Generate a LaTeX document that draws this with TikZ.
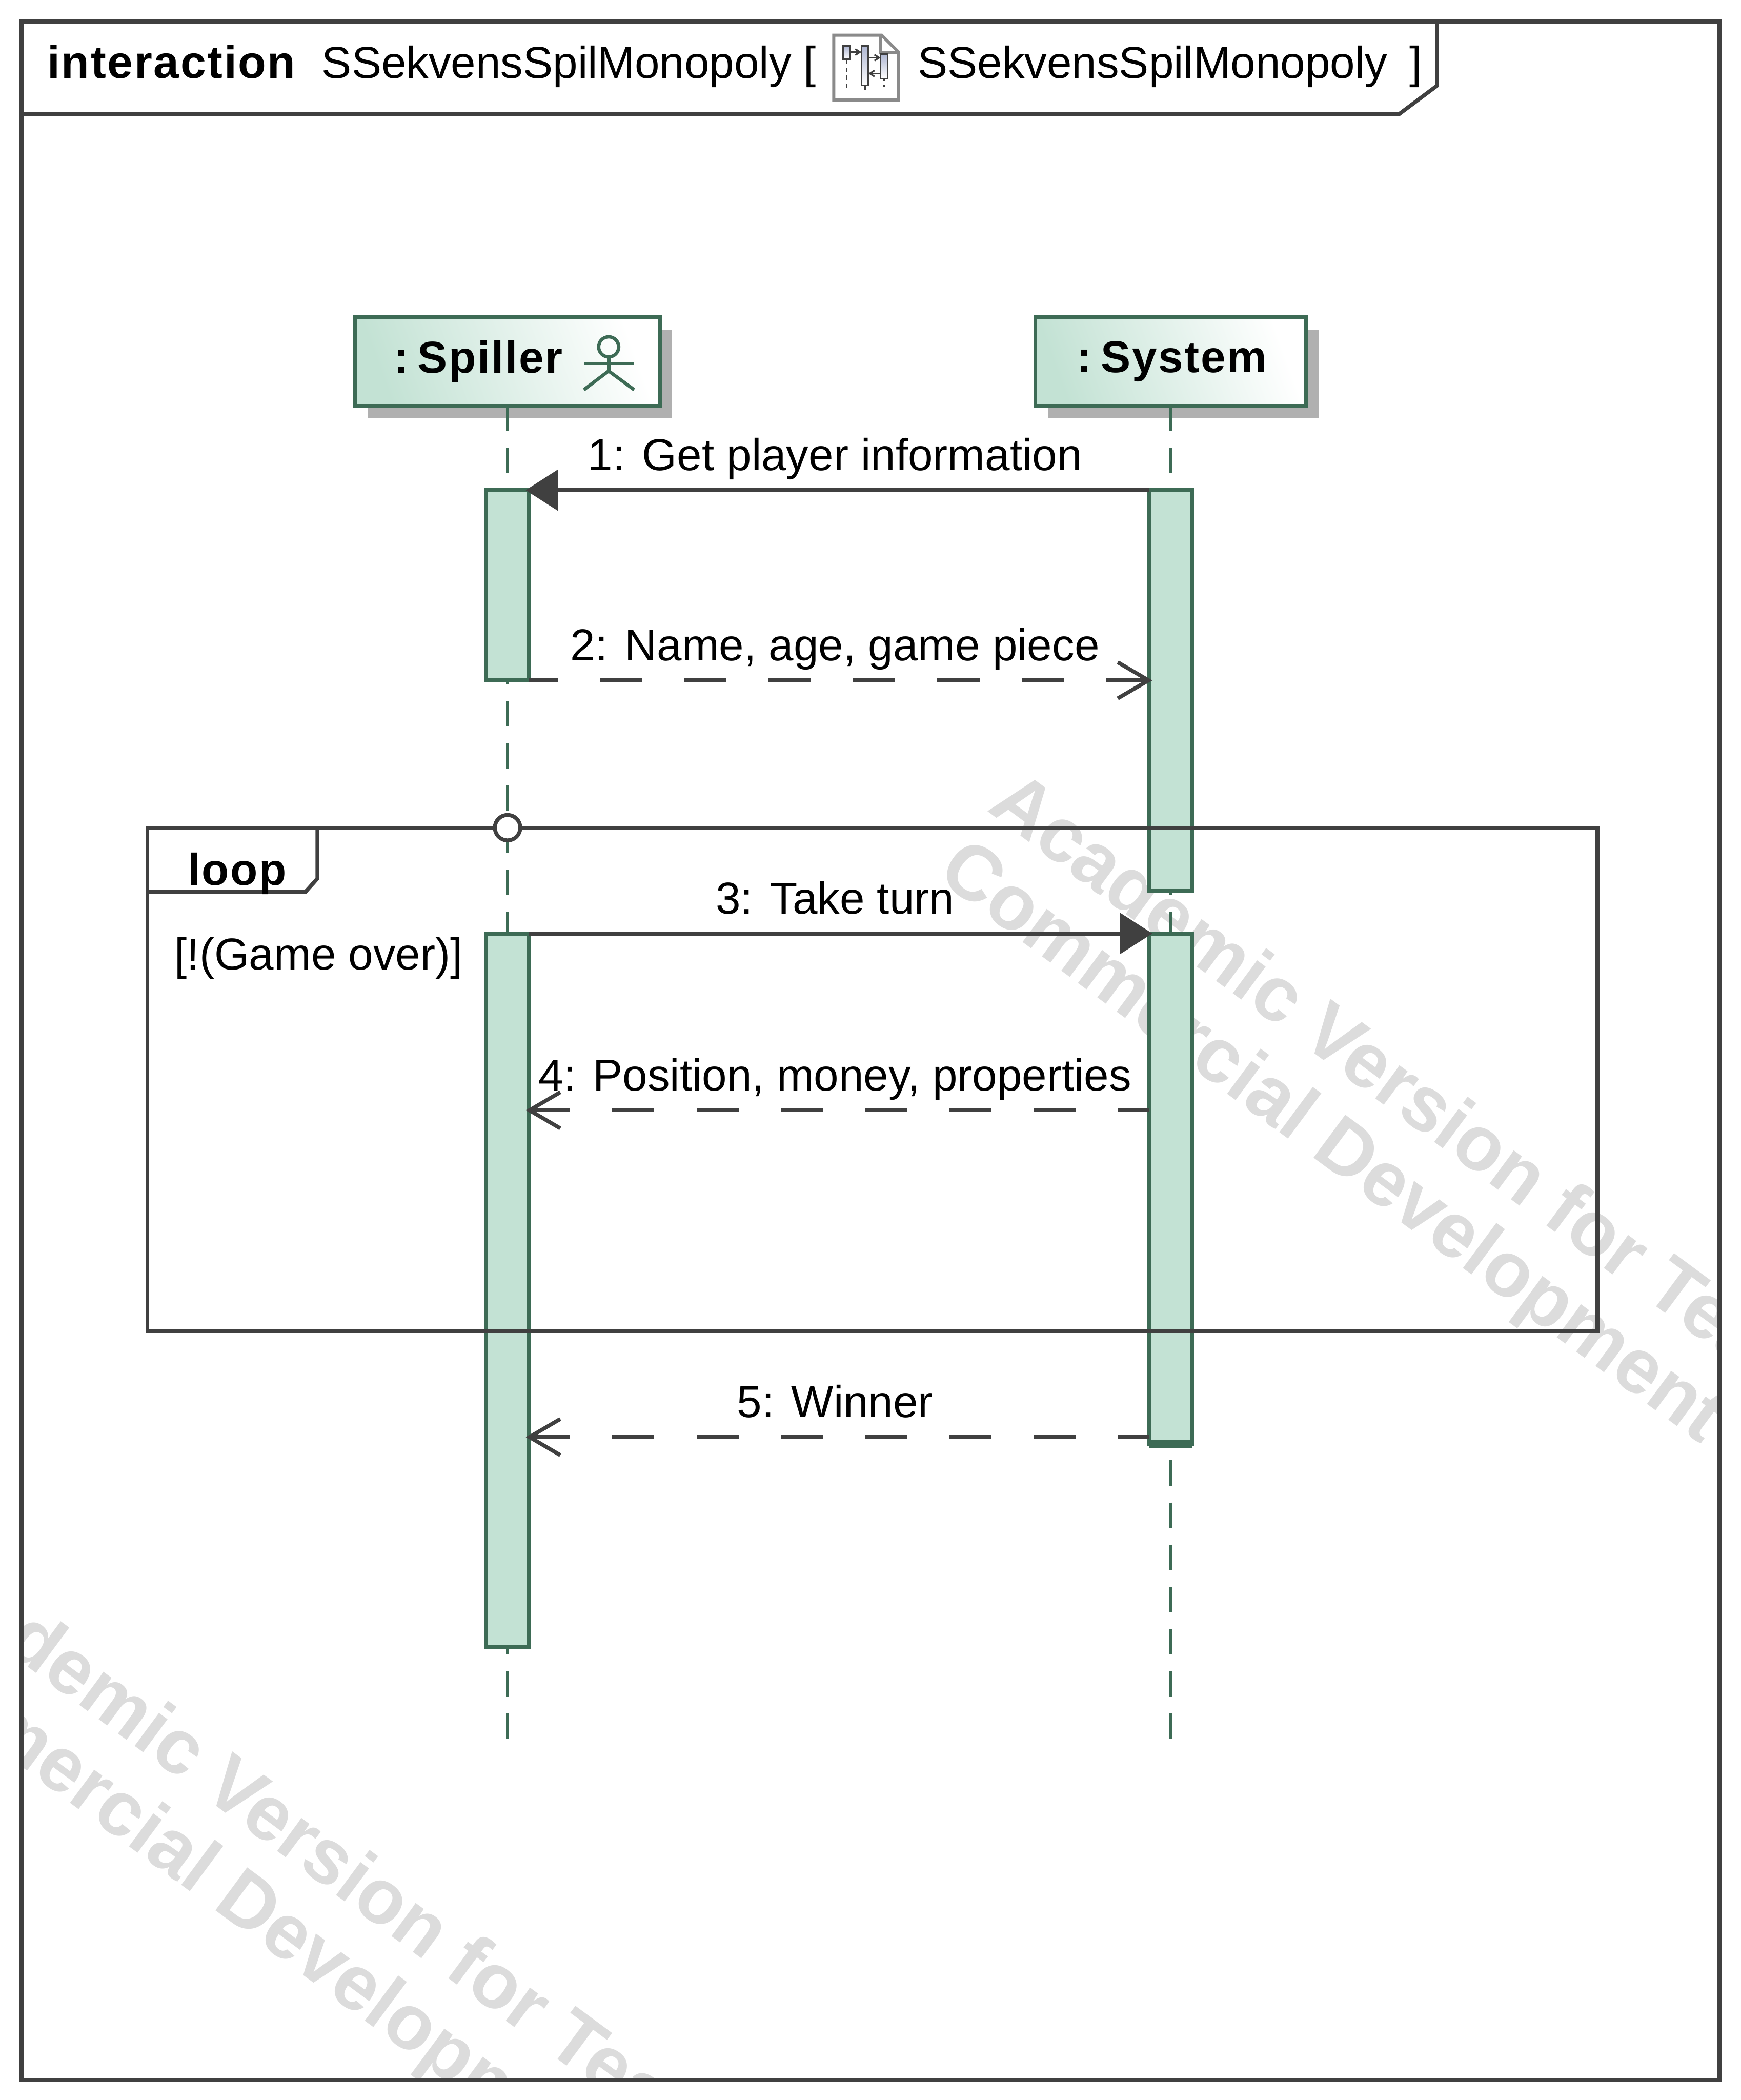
\documentclass[tikz,border=0pt]{standalone}
\usepackage{fontspec}
\setmainfont{Liberation Sans}
\newfontfamily\spacedfont[LetterSpace=3]{Liberation Sans}
\usepackage{xcolor}
\usetikzlibrary{arrows.meta,positioning,calc}
\definecolor{framegray}{HTML}{404040}
\definecolor{umlgreen}{HTML}{3D6B55}
\definecolor{barfill}{HTML}{C3E2D4}
\definecolor{shadowgray}{HTML}{B0B0B0}
\definecolor{markgray}{HTML}{DCDCDC}
\definecolor{icongray}{HTML}{8A8A8A}
\definecolor{iconblue}{HTML}{AEB6D2}
\newcommand{\umlfont}{\fontsize{19}{23}\selectfont}
\newcommand{\umlbold}{\fontsize{19}{23}\selectfont\spacedfont\bfseries}
\newcommand{\msggap}{\ \kern 2pt}

\begin{document}
\begin{tikzpicture}[
  x=0.02cm, y=-0.02cm,
  framebox/.style={draw=framegray, line width=0.058cm, inner sep=0pt, outer sep=0pt},
  plainlabel/.style={font=\umlfont, inner sep=0pt, anchor=base west},
  boldlabel/.style={font=\umlbold, inner sep=0pt, anchor=base west},
  headbox/.style={draw=umlgreen, line width=0.058cm, left color=barfill, right color=white,
    shading angle=110, minimum height=1.32cm, inner sep=0pt, outer sep=0pt, font=\umlbold},
  headshadow/.style={fill=shadowgray, minimum height=1.32cm, inner sep=0pt},
  actbar/.style={draw=umlgreen, fill=barfill, line width=0.058cm, minimum width=0.64cm,
    inner sep=0pt, outer sep=0pt, anchor=north},
  lifeline/.style={draw=umlgreen, line width=0.05cm, dash pattern=on 0.38cm off 0.25cm},
  actorline/.style={draw=umlgreen, line width=0.05cm},
  syncmsg/.style={draw=framegray, line width=0.058cm, shorten >=-0.05cm,
    -{Triangle[length=0.48cm, width=0.6cm]}, fill=framegray},
  replymsg/.style={draw=framegray, line width=0.058cm, shorten >=-0.05cm,
    dash pattern=on 0.63cm off 0.63cm, -{Straight Barb[length=0.46cm, width=0.54cm]}},
  msglabel/.style={font=\umlfont, inner sep=0pt, text height=14pt, text depth=4pt, above=3.5pt,
    xshift=-0.06cm, fill=none},
  watermark/.style={font=\fontsize{33}{39}\selectfont\bfseries, text=markgray, inner sep=0pt,
    anchor=base west, rotate=-36.5},
  iconline/.style={draw=framegray, line width=0.025cm},
  iconbar/.style={iconline, top color=iconblue, bottom color=white}
]
\useasboundingbox (0,0) rectangle (1300,1568);

% watermarks stay inside the outer frame
\begin{scope}
\clip (16,16) rectangle (1284,1553);
\node[watermark] (markacadone) at (736,605) {Academic Version for Tea};
\node[watermark] (markcommone) at (698,655) {Commercial Development i};
\node[watermark] (markacadtwo) at (-84,1167) {Academic Version for Tea};
\node[watermark] (markcommtwo) at (-122,1217) {Commercial Developm};
\end{scope}

% outer frame
\node[framebox, minimum width=25.36cm, minimum height=30.74cm] (outer) at (650,784.5) {};
\draw[framebox] (16,85) -- (1045,85) -- (1073,64) -- (1073,16);
\node[boldlabel, font=\fontsize{19.5}{23}\selectfont\spacedfont\bfseries] (kind) at (35,58.5) {interaction};
\node[plainlabel] (title) at (240,58.5) {SSekvensSpilMonopoly [};
\node[plainlabel] (refname) at (685,58.5) {SSekvensSpilMonopoly};
\node[plainlabel] (refclose) at (1052,58.5) {]};

% diagram icon
\begin{scope}[shift={(621.5,25.2)}, x=0.0021cm, y=-0.0021cm]
\draw[icongray, fill=white, line width=0.046cm] (10,10) -- (350,10) -- (470,130) -- (470,470) -- (10,470) -- cycle;
\draw[icongray, line width=0.046cm] (345,10) -- (345,133) -- (470,133);
\draw[iconline, dash pattern=on 0.07cm off 0.05cm] (103,182) -- (103,400);
\draw[iconline] (232,365) -- (232,400);
\draw[iconline, dash pattern=on 0.04cm off 0.05cm] (365,318) -- (365,400);
\path[iconbar] (78,87) rectangle (128,182);
\path[iconbar] (207,87) rectangle (255,365);
\path[iconbar] (343,145) rectangle (393,318);
\draw[iconline, -{Straight Barb[length=0.07cm, width=0.09cm]}] (128,130) -- (207,130);
\draw[iconline, -{Straight Barb[length=0.07cm, width=0.09cm]}] (255,170) -- (343,170);
\draw[iconline, -{Straight Barb[length=0.07cm, width=0.09cm]}] (343,282) -- (255,282);
\end{scope}

% lifeline heads
\node[headshadow, minimum width=4.54cm] (spillershadow) at (388,279) {};
\node[headshadow, minimum width=4.04cm] (systemshadow) at (884,279) {};
\node[headbox, minimum width=4.56cm] (spiller) at (379,270) {:\kern-2pt\ Spiller\hspace*{0.88cm}};
\node[headbox, minimum width=4.04cm] (system) at (874,270) {\hspace*{0.04cm}:\kern-2pt\ System};

% actor figure
\node[actorline, circle, minimum size=0.3cm, inner sep=0pt, outer sep=0pt] (actorhead) at (454.5,259) {};
\coordinate (actorarml) at (436,271.5);
\coordinate (actorarmr) at (473.5,271.5);
\coordinate (actorhip) at (454.5,277);
\coordinate (actorfootl) at (436,291);
\coordinate (actorfootr) at (473.5,291);
\draw[actorline] (actorarml) -- (actorarmr);
\draw[actorline] (actorhead.south) -- (actorhip);
\draw[actorline] (actorfootl) -- (actorhip) -- (actorfootr);

% lifelines and activation bars
\coordinate (spillerend) at (379,1300);
\coordinate (systemend) at (874,1300);
\draw[lifeline] (spiller.south) -- (spillerend);
\draw[lifeline] (system.south) -- (systemend);
\node[actbar, minimum height=2.84cm] (spillerbarone) at (379,366) {};
\node[actbar, minimum height=10.66cm] (spillerbartwo) at (379,697) {};
\node[actbar, minimum height=5.98cm] (systembarone) at (874,366) {};
\node[actbar, minimum height=7.62cm] (systembartwo) at (874,697) {};
\draw[draw=umlgreen, line width=0.12cm] (systembartwo.south west) -- (systembartwo.south east);

% loop fragment
\node[framebox, minimum width=21.66cm, minimum height=7.52cm] (loopframe) at (651.5,806) {};
\draw[framebox] (110,666) -- (228,666) -- (237,656) -- (237,618);
\node[boldlabel] (looplabel) at (140,661) {loop};
\node[plainlabel] (guard) at (130,724) {[!(Game over)]};
\node[framebox, circle, fill=white, minimum size=0.38cm] (loopgate) at (379,618) {};

% messages
\coordinate (msgtwoend) at (systembarone.west |- spillerbarone.south);
\coordinate (msgfourstart) at (858,829);
\coordinate (msgfourend) at (395,829);
\coordinate (msgfivestart) at (858,1073);
\coordinate (msgfiveend) at (395,1073);
\draw[syncmsg] (systembarone.north west) -- node[msglabel] {1:\msggap Get player information} (spillerbarone.north east);
\draw[replymsg, dash phase=0.2cm] (spillerbarone.south east) -- node[msglabel] {2:\msggap Name, age, game piece} (msgtwoend);
\draw[syncmsg] (spillerbartwo.north east) -- node[msglabel] {3:\msggap Take turn} (systembartwo.north west);
\draw[replymsg, dash phase=0.17cm] (msgfourstart) -- node[msglabel] {4:\msggap Position, money, properties} (msgfourend);
\draw[replymsg, dash phase=0.17cm] (msgfivestart) -- node[msglabel] {5:\msggap Winner} (msgfiveend);
\end{tikzpicture}
\end{document}
